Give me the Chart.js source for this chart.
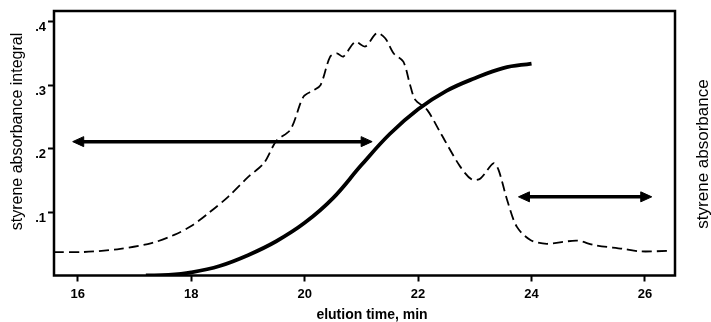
<!DOCTYPE html>
<html>
<head>
<meta charset="utf-8">
<script src="https://cdn.jsdelivr.net/npm/chart.js@4"></script>
<style>
    html, body { margin: 0; padding: 0; background: #fff; }
    #wrap { width: 711px; height: 322px; }
</style>
</head>
<body>
<div id="wrap"><canvas id="elutionChart"></canvas></div>
<script>
// x ticks and y ticks shown on the axes
const timeTicks = [16, 18, 20, 22, 24, 26];
const integralTicks = [0.1, 0.2, 0.3, 0.4];

// styrene absorbance integral (solid line)
const integralTime = [17.2, 17.6, 18.0, 18.5, 19.0, 19.5, 20.0, 20.5, 21.0, 21.5, 22.0, 22.5, 23.0, 23.5, 24.0];
const integralValue = [0.0, 0.001, 0.005, 0.015, 0.032, 0.054, 0.083, 0.122, 0.174, 0.223, 0.262, 0.291, 0.311, 0.327, 0.334];

// styrene absorbance (dashed line)
const absorbTime = [15.58, 16.1, 16.75, 17.3, 17.7, 18.0, 18.3, 18.65, 19.0, 19.28, 19.5, 19.75, 19.98, 20.16, 20.28,
    20.45, 20.57, 20.68, 20.89, 21.07, 21.27, 21.42, 21.57, 21.74, 21.86, 21.95, 22.16, 22.4, 22.74, 22.95,
    23.1, 23.33, 23.42, 23.57, 23.74, 23.98, 24.27, 24.8, 25.1, 25.62, 25.92, 26.45];
const absorbValue = [0.037, 0.037, 0.042, 0.051, 0.064, 0.078, 0.098, 0.124, 0.155, 0.177, 0.212, 0.23, 0.282, 0.292, 0.3,
    0.345, 0.35, 0.345, 0.368, 0.361, 0.382, 0.374, 0.35, 0.337, 0.3, 0.277, 0.261, 0.224, 0.172, 0.151,
    0.153, 0.177, 0.166, 0.119, 0.077, 0.056, 0.05, 0.055, 0.048, 0.042, 0.038, 0.039];

// double arrows (fraction ranges)
const arrowFrom = [15.91, 23.77];
const arrowTo = [21.19, 26.12];
const arrowLevel = [0.211, 0.124];

const FONT = '"Liberation Sans", Arial, sans-serif';

function toPoints(xs, ys) {
    return xs.map((x, i) => ({ x: x, y: ys[i] }));
}

function drawHead(ctx, x, y, dir) {
    // dir = -1 points left, 1 points right
    ctx.beginPath();
    ctx.moveTo(x, y);
    ctx.lineTo(x - dir * 11, y - 5);
    ctx.lineTo(x - dir * 11, y + 5);
    ctx.closePath();
    ctx.fill();
    ctx.stroke();
}

const decorPlugin = {
    id: 'decor',
    afterDraw(chart) {
        const ctx = chart.ctx;
        const area = chart.chartArea;
        const xs = chart.scales.x;
        const ys = chart.scales.y;

        ctx.save();
        // frame
        ctx.strokeStyle = '#000';
        ctx.lineWidth = 2.5;
        ctx.strokeRect(area.left, area.top, area.right - area.left, area.bottom - area.top);

        // arrows
        ctx.fillStyle = '#000';
        arrowFrom.forEach((from, i) => {
            const x1 = xs.getPixelForValue(from);
            const x2 = xs.getPixelForValue(arrowTo[i]);
            const y = ys.getPixelForValue(arrowLevel[i]);
            ctx.lineWidth = 3.5;
            ctx.beginPath();
            ctx.moveTo(x1 + 8, y);
            ctx.lineTo(x2 - 8, y);
            ctx.stroke();
            ctx.lineWidth = 1;
            drawHead(ctx, x1, y, -1);
            drawHead(ctx, x2, y, 1);
        });

        // axis titles
        ctx.fillStyle = '#000';
        ctx.textAlign = 'center';
        ctx.textBaseline = 'middle';

        ctx.save();
        ctx.translate(18, 131.5);
        ctx.rotate(-Math.PI / 2);
        ctx.font = '16px ' + FONT;
        ctx.fillText('styrene absorbance integral', 0, 0);
        ctx.restore();

        ctx.save();
        ctx.translate(703, 154);
        ctx.rotate(-Math.PI / 2);
        ctx.font = '17px ' + FONT;
        ctx.fillText('styrene absorbance', 0, 0);
        ctx.restore();

        ctx.font = 'bold 14px ' + FONT;
        ctx.fillText('elution time, min', 372, 315);
        ctx.restore();
    }
};

const ctx = document.getElementById('elutionChart');
const config = {
    type: 'line',
    data: {
        datasets: [
            {
                label: 'styrene absorbance integral',
                data: toPoints(integralTime, integralValue),
                borderColor: '#000',
                borderWidth: 3.8,
                pointRadius: 0,
                tension: 0.4,
                fill: false,
            },
            {
                label: 'styrene absorbance',
                data: toPoints(absorbTime, absorbValue),
                borderColor: '#000',
                borderWidth: 1.8,
                borderDash: [10, 5],
                pointRadius: 0,
                tension: 0.3,
                fill: false,
            },
        ],
    },
    options: {
        responsive: true,
        maintainAspectRatio: false,
        animation: false,
        events: [],
        layout: {
            padding: { top: 11, right: 36, left: 0, bottom: 0 },
        },
        plugins: {
            legend: { display: false },
            tooltip: { enabled: false },
        },
        scales: {
            x: {
                type: 'linear',
                min: 15.58,
                max: 26.53,
                afterFit: (scale) => { scale.height = 46.5; },
                afterBuildTicks: (scale) => {
                    scale.ticks = timeTicks.map((v) => ({ value: v }));
                },
                border: { display: false },
                grid: {
                    drawOnChartArea: false,
                    tickLength: 6,
                    tickWidth: 2,
                    tickColor: '#000',
                },
                ticks: {
                    color: '#000',
                    padding: 5.5,
                    maxRotation: 0,
                    font: { family: FONT, size: 13, weight: 'bold' },
                },
            },
            y: {
                min: 0,
                max: 0.4169,
                afterFit: (scale) => { scale.width = 54; },
                afterBuildTicks: (scale) => {
                    scale.ticks = integralTicks.map((v) => ({ value: v }));
                },
                border: { display: false },
                grid: {
                    drawOnChartArea: false,
                    tickLength: 6,
                    tickWidth: 2,
                    tickColor: '#000',
                },
                ticks: {
                    color: '#000',
                    padding: 2,
                    labelOffset: 6,
                    font: { family: FONT, size: 13, weight: 'bold' },
                    callback: (v) => String(Math.round(v * 10) / 10).replace('0.', '.'),
                },
            },
        },
    },
    plugins: [decorPlugin],
};

const elutionChart = new Chart(ctx, config);
</script>
</body>
</html>
